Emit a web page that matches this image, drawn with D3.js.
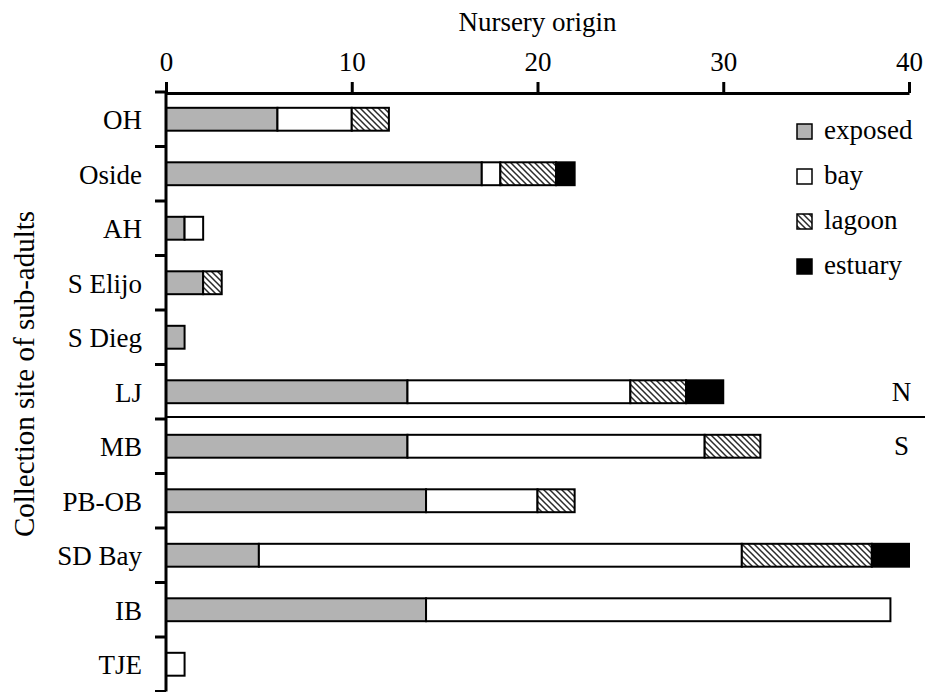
<!DOCTYPE html>
<html>
<head>
<meta charset="utf-8">
<script src="https://cdn.jsdelivr.net/npm/d3@7"></script>
<style>
  body { margin: 0; background: #fff; }
  svg text { font-family: "Liberation Serif", "Times New Roman", serif; fill: #000; }
</style>
</head>
<body>
<div id="chart"></div>
<script>
// data
const categories = ["OH", "Oside", "AH", "S Elijo", "S Dieg", "LJ", "MB", "PB-OB", "SD Bay", "IB", "TJE"];
const exposed = [6, 17, 1, 2, 1, 13, 13, 14, 5, 14, 0];
const bay     = [4, 1, 1, 0, 0, 12, 16, 6, 26, 25, 1];
const lagoon  = [2, 3, 0, 1, 0, 3, 3, 2, 7, 0, 0];
const estuary = [0, 1, 0, 0, 0, 2, 0, 0, 2, 0, 0];
const seriesNames = ["exposed", "bay", "lagoon", "estuary"];
const xTicks = [0, 10, 20, 30, 40];

let W = 925, H = 692;
let serif = '"Liberation Serif", "Times New Roman", serif';
let fontSize = 27;

let rows = categories.map((c, i) => ({
  site: c, exposed: exposed[i], bay: bay[i], lagoon: lagoon[i], estuary: estuary[i]
}));

let svg = d3.select('#chart')
  .append('svg')
  .attr('width', W)
  .attr('height', H)
  .style('background-color', '#fff');

// hatch for lagoon
let defs = svg.append('defs');
defs.append('pattern')
  .attr('id', 'hatch')
  .attr('patternUnits', 'userSpaceOnUse')
  .attr('width', 6).attr('height', 6)
  .call(p => {
    p.append('rect').attr('width', 6).attr('height', 6).attr('fill', '#fff');
    p.append('path')
      .attr('d', 'M0,0 L6,6 M-1,5 L1,7 M5,-1 L7,1')
      .attr('stroke', '#2a2a2a')
      .attr('stroke-width', 1.5);
  });

let fills = {exposed: '#b3b3b3', bay: '#fff', lagoon: 'url(#hatch)', estuary: '#000'};

// scales
let x = d3.scaleLinear().domain([0, 40]).range([166, 909]);
let y = d3.scaleBand().domain(categories).range([92, 691.5])
  .paddingInner(0.58).paddingOuter(0.29);

let stack = d3.stack().keys(seriesNames)(rows);

// bars
svg.append('g').selectAll('g')
  .data(stack)
  .enter().append('g')
  .attr('fill', d => fills[d.key])
  .selectAll('rect')
  .data(d => d.filter(s => s[1] - s[0] > 0))
  .enter().append('rect')
  .attr('x', d => x(d[0]))
  .attr('y', d => y(d.data.site))
  .attr('width', d => x(d[1]) - x(d[0]))
  .attr('height', y.bandwidth())
  .attr('stroke', '#000')
  .attr('stroke-width', 2);

// N / S divider between LJ and MB
let divY = y('MB') - (y.step() - y.bandwidth()) / 2 - 2;
svg.append('line')
  .attr('x1', x(0)).attr('x2', W)
  .attr('y1', divY).attr('y2', divY)
  .attr('stroke', '#000').attr('stroke-width', 2);

function label(g, txt, tx, ty, anchor) {
  return g.append('text')
    .attr('x', tx)
    .attr('y', ty)
    .attr('text-anchor', anchor)
    .style('font-family', serif)
    .style('font-size', fontSize + 'px')
    .text(txt);
}

label(svg, 'N', x(39.6), y('LJ') + y.bandwidth() / 2 + 9, 'middle');
label(svg, 'S', x(39.6), y('MB') + y.bandwidth() / 2 + 9, 'middle');

// top axis
let xAxis = d3.axisTop(x).tickValues(xTicks).tickSize(11).tickSizeOuter(0).tickPadding(11);
let gx = svg.append('g')
  .attr('transform', `translate(0,${y.range()[0] + 1})`)
  .call(xAxis)
  .attr('font-family', null)
  .attr('font-size', null);
gx.select('.domain').attr('stroke-width', 3);
gx.selectAll('.tick line').attr('stroke-width', 3);
gx.selectAll('.tick text')
  .style('font-family', serif)
  .style('font-size', fontSize + 'px');

// left axis (ticks at band boundaries)
let yAxisG = svg.append('g');
yAxisG.append('line')
  .attr('x1', x(0)).attr('x2', x(0))
  .attr('y1', y.range()[0]).attr('y2', y.range()[1])
  .attr('stroke', '#000').attr('stroke-width', 3);
yAxisG.selectAll('.ytick')
  .data(d3.range(categories.length + 1))
  .enter().append('line')
  .attr('class', 'ytick')
  .attr('x1', x(0) - 11).attr('x2', x(0))
  .attr('y1', k => y.range()[0] + k * y.step())
  .attr('y2', k => y.range()[0] + k * y.step())
  .attr('stroke', '#000').attr('stroke-width', 3);

// category labels
let catG = svg.append('g');
categories.forEach(c => label(catG, c, 142, y(c) + y.bandwidth() / 2 + 10, 'end'));

// axis titles
label(svg, 'Nursery origin', (x(0) + x(40)) / 2, 31, 'middle');

svg.append('text')
  .attr('transform', 'translate(34,374) rotate(-90)')
  .attr('text-anchor', 'middle')
  .style('font-family', serif)
  .style('font-size', '29px')
  .text('Collection site of sub-adults');

// legend
let legend = svg.append('g').selectAll('g')
  .data(seriesNames)
  .enter().append('g')
  .attr('transform', (d, i) => `translate(797,${124 + i * 45})`);
legend.append('rect')
  .attr('width', 15).attr('height', 15)
  .attr('fill', d => fills[d])
  .attr('stroke', '#000').attr('stroke-width', 1.5);
legend.each(function(d) { label(d3.select(this), d, 27, 15, 'start'); });
</script>
</body>
</html>
